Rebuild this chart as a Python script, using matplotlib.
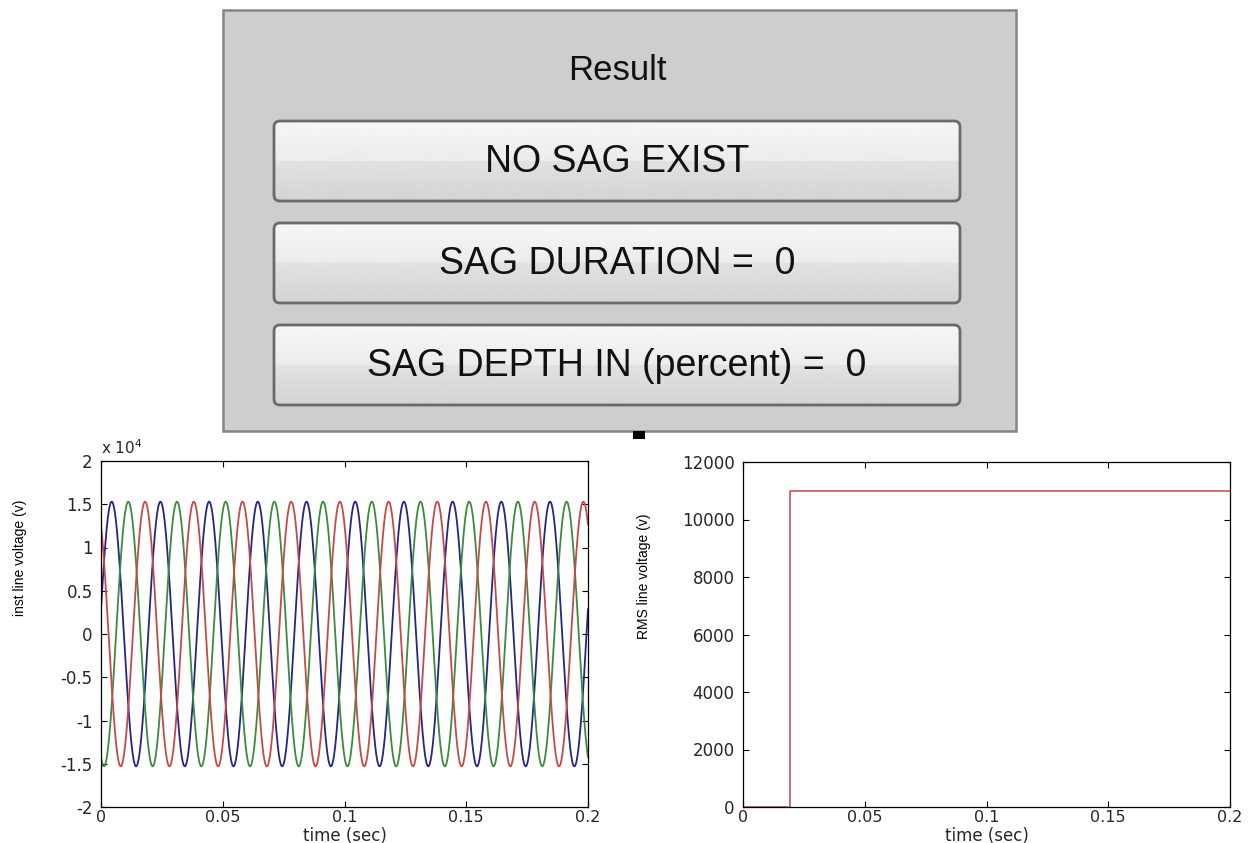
import numpy as np
import matplotlib
matplotlib.use("Agg")
import matplotlib.pyplot as plt
from matplotlib.patches import Rectangle, FancyBboxPatch

# ---- values ----
panel_title = "Result"
button_texts = ["NO SAG EXIST", "SAG DURATION =  0", "SAG DEPTH IN (percent) =  0"]

# three phase instantaneous voltage (read: ~15.3 kV peak, 50 Hz)
phase_names = ["a", "b", "c"]
phase_colors = ["#24248a", "#3a8c3a", "#c84848"]
phase_peak_time = [0.0044, 0.0112, 0.0181]   # time of first peak of each phase (s)
v_peak = 15300.0
f_line = 50.0
t_end = 0.2
t_step = 0.0001

inst_yticks = [-2e4, -1.5e4, -1e4, -0.5e4, 0, 0.5e4, 1e4, 1.5e4, 2e4]
inst_yticklabels = ["-2", "-1.5", "-1", "-0.5", "0", "0.5", "1", "1.5", "2"]
time_ticks = [0, 0.05, 0.1, 0.15, 0.2]
time_ticklabels = ["0", "0.05", "0.1", "0.15", "0.2"]

# RMS line voltage: zero for the first window, then 11 kV
rms_t = [0.0, 0.0195, 0.2]
rms_v = [0.0, 11000.0, 11000.0]
rms_yticks = [0, 2000, 4000, 6000, 8000, 10000, 12000]

W, H = 1256, 843
fig = plt.figure(figsize=(W / 100, H / 100), dpi=100)
fig.patch.set_facecolor("white")

# ---- top GUI panel, drawn in pixel coordinates ----
gui = fig.add_axes([0, 0, 1, 1])
gui.set_xlim(0, W)
gui.set_ylim(H, 0)
gui.axis("off")

gui.add_patch(Rectangle((223, 10), 793, 421, facecolor="#cecece",
                        edgecolor="#8c8186", lw=1.8))
gui.text(617, 70, panel_title, ha="center", va="center", fontsize=25,
         family="Liberation Sans", color="#111111")

grad = np.concatenate([np.linspace(0.965, 0.925, 40), np.linspace(0.885, 0.83, 40)])
grad = np.tile(grad[:, None], (1, 2))
btn_tops = [121, 223, 325]
for top, label in zip(btn_tops, button_texts):
    box = FancyBboxPatch((274, top), 686, 80, boxstyle="round,pad=0,rounding_size=6",
                         facecolor="none", edgecolor="#6a6a6a", lw=2.0, zorder=3)
    gui.add_patch(box)
    im = gui.imshow(grad, cmap="gray", vmin=0, vmax=1, aspect="auto",
                    extent=(274, 960, top + 80, top), zorder=2, interpolation="bilinear")
    im.set_clip_path(box)
    gui.text(617, top + 41, label, ha="center", va="center", fontsize=27,
             family="Liberation Sans", color="#111111", zorder=4)
gui.set_xlim(0, W)
gui.set_ylim(H, 0)
gui.add_patch(Rectangle((633, 431), 12, 8, facecolor="black", edgecolor="none"))


def style_axes(ax):
    for s in ax.spines.values():
        s.set_linewidth(0.9)
        s.set_color("black")
    ax.tick_params(direction="in", length=4, width=0.8, top=True, right=True,
                   labelsize=12, labelcolor="#262626")
    ax.tick_params(axis="x", pad=2, labelsize=11.5)
    ax.tick_params(axis="y", pad=6)


# ---- left: instantaneous line voltages ----
ax1 = fig.add_axes([101 / W, 1 - 807 / H, 487 / W, 346 / H])
t = np.arange(0, t_end + t_step / 2, t_step)
for name, col, tp in zip(phase_names, phase_colors, phase_peak_time):
    ax1.plot(t, v_peak * np.cos(2 * np.pi * f_line * (t - tp)), color=col, lw=1.3)
ax1.set_xlim(0, t_end)
ax1.set_ylim(-2e4, 2e4)
ax1.set_yticks(inst_yticks)
ax1.set_yticklabels(inst_yticklabels)
ax1.set_xticks(time_ticks)
ax1.set_xticklabels(time_ticklabels)
style_axes(ax1)
ax1.text(0.0, 1.012, r"x 10$^{4}$", transform=ax1.transAxes, ha="left", va="bottom",
         fontsize=11, color="#262626")
ax1.set_ylabel("inst line voltage (v)", fontsize=10, family="Liberation Sans")
ax1.yaxis.set_label_coords(-0.152, 0.72)
ax1.set_xlabel("time (sec)", fontsize=12, color="#262626")
ax1.xaxis.set_label_coords(0.5, -0.058)

# ---- right: RMS line voltage ----
ax2 = fig.add_axes([743 / W, 1 - 807 / H, 487 / W, 345 / H])
ax2.plot(rms_t, rms_v, drawstyle="steps-post", color="#c8434a", lw=1.1)
ax2.set_xlim(0, t_end)
ax2.set_ylim(0, 12000)
ax2.set_yticks(rms_yticks)
ax2.set_xticks(time_ticks)
ax2.set_xticklabels(time_ticklabels)
style_axes(ax2)
ax2.set_ylabel("RMS line voltage (v)", fontsize=10, family="Liberation Sans")
ax2.yaxis.set_label_coords(-0.188, 0.67)
ax2.set_xlabel("time (sec)", fontsize=12, color="#262626")
ax2.xaxis.set_label_coords(0.5, -0.058)

fig.savefig("out.png", dpi=100)
